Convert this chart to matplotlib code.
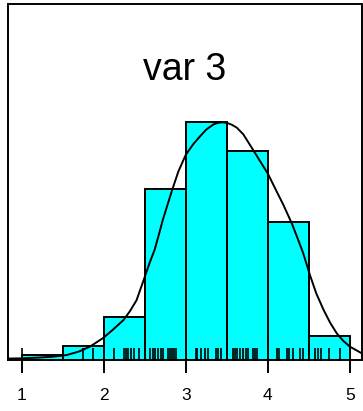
import matplotlib
matplotlib.use("Agg")
import matplotlib.pyplot as plt
import matplotlib.transforms as mtransforms

# ---- data ----
bin_edges = [1.0, 1.5, 2.0, 2.5, 3.0, 3.5, 4.0, 4.5, 5.0]
counts = [1, 3, 9, 36, 50, 44, 29, 5]

curve_x = [0.83, 1.00, 1.20, 1.38, 1.55, 1.70, 1.83, 1.99, 2.10, 2.24, 2.32,
           2.40, 2.50, 2.56, 2.62, 2.67, 2.72, 2.83, 2.91, 3.00, 3.09, 3.17,
           3.25, 3.34, 3.39, 3.44, 3.50, 3.56, 3.62, 3.70, 3.82, 3.91, 4.00,
           4.10, 4.19, 4.29, 4.36, 4.43, 4.51, 4.59, 4.68, 4.76, 4.84, 4.92,
           5.00, 5.16]
curve_y = [0.3, 0.35, 0.5, 0.7, 1.05, 1.8, 2.8, 4.6, 6.2, 8.4, 10.3,
           12.6, 17.5, 20.5, 23.2, 26.3, 29.5, 35.6, 39.7, 43.2, 45.4, 47.0,
           48.5, 49.6, 49.9, 50.0, 49.9, 49.5, 48.9, 47.5, 44.2, 41.7, 39.2,
           35.7, 32.6, 28.8, 25.7, 22.5, 18.0, 14.0, 10.5, 7.8, 5.6, 4.0,
           2.8, 1.26]

rug = [1.000, 1.751, 1.872, 2.119, 2.247, 2.277, 2.301, 2.332, 2.374, 2.433,
       2.563, 2.596, 2.628, 2.664, 2.697, 2.722, 2.783, 2.813, 2.837, 2.856,
       2.880, 3.124, 3.140, 3.185, 3.234, 3.270, 3.367, 3.392, 3.428, 3.575,
       3.599, 3.629, 3.660, 3.700, 3.733, 3.761, 3.815, 3.849, 3.867, 4.117,
       4.141, 4.233, 4.263, 4.309, 4.387, 4.424, 4.570, 4.614, 4.647, 4.742,
       4.874]

xticks = [1, 2, 3, 4, 5]
xtick_labels = ["1", "2", "3", "4", "5"]
title = "var 3"

# ---- figure ----
plt.rcParams['font.family'] = ['Liberation Sans', 'DejaVu Sans']
fig = plt.figure(figsize=(3.63, 4.11), dpi=100)
ax = fig.add_axes([8 / 363, (411 - 360) / 411, 354 / 363, 355.5 / 411])

lefts = bin_edges[:-1]
widths = [b - a for a, b in zip(bin_edges[:-1], bin_edges[1:])]
ax.bar(lefts, counts, width=widths, align='edge', color='#00FFFF',
       edgecolor='black', linewidth=1.4, zorder=2)

ax.plot(curve_x, curve_y, color='black', linewidth=1.4, zorder=4,
        solid_joinstyle='round', solid_capstyle='round')

trans = mtransforms.blended_transform_factory(ax.transData, ax.transAxes)
ax.vlines(rug, 0, 0.034, transform=trans, color='black', linewidth=1.2,
          zorder=3)

ax.set_xlim(0.833, 5.147)
ax.set_ylim(0, 74.8)

ax.set_xticks(xticks)
ax.set_xticklabels(xtick_labels, fontsize=12.5)
ax.tick_params(axis='x', direction='out', length=9.5, width=1.4, pad=11)
ax.set_yticks([])

for s in ax.spines.values():
    s.set_linewidth(1.4)
    s.set_zorder(5)

ax.text(0.5, 0.788, title, transform=ax.transAxes, ha='center',
        va='baseline', fontsize=27)

fig.savefig("out.png", dpi=100)
